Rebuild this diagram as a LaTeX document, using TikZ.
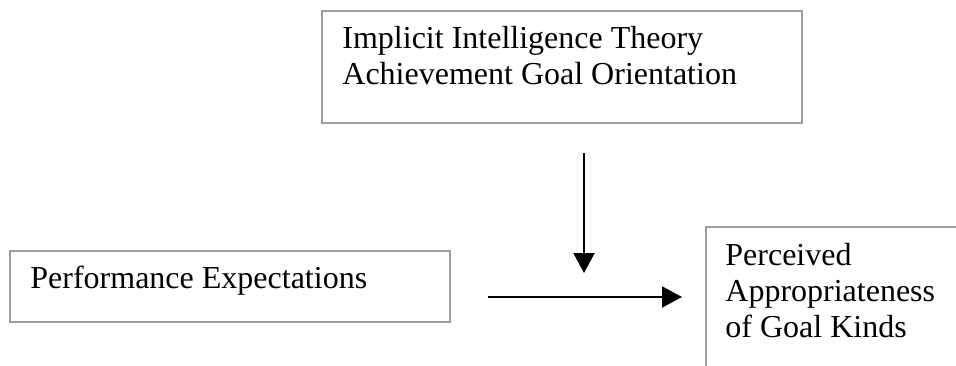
\documentclass[tikz,border=0pt]{standalone}
\usepackage{fontspec}
\setmainfont{Liberation Serif}
\usetikzlibrary{arrows.meta,positioning}
\definecolor{framegray}{RGB}{160,156,152}
\tikzset{
  framebox/.style={
    draw=framegray, line width=0.8pt, inner sep=0pt,
    anchor=north west
  },
  boxtext/.style={
    inner sep=0pt, align=left,
    font=\fontsize{16}{18}\selectfont
  },
  flowarrow/.style={
    -{Triangle[length=10pt,width=10.5pt]},
    draw=black, line width=1pt
  },
}

\begin{document}
\begin{tikzpicture}[x=0.5pt,y=-0.5pt]
  \useasboundingbox (0,0) rectangle (956,365);
  \clip (0,0) rectangle (956,365);

  %% Boxes
  \node[framebox, minimum width=240pt, minimum height=56pt] (theory) at (321,10) {};
  \node[framebox, minimum width=220pt, minimum height=35.5pt] (expect) at (9,250) {};
  \node[framebox, minimum width=200pt, minimum height=100pt] (approp) at (705,226) {};

  %% Box texts
  \node[boxtext, below right=8pt and 10.5pt of theory.north west] (theorytxt)
    {Implicit Intelligence Theory\\Achievement Goal Orientation};
  \node[boxtext, below right=8pt and 10.5pt of expect.north west] (expecttxt)
    {Performance Expectations};
  \node[boxtext, below right=8.5pt and 10pt of approp.north west] (approptxt)
    {Perceived\\Appropriateness\\of Goal Kinds};

  %% Arrows
  \coordinate (modtop) at (584,153);
  \coordinate (modtip) at (584,273);
  \coordinate (pathstart) at (488,297);
  \coordinate (pathtip) at (682,297);

  \draw[flowarrow] (modtop) -- (modtip);
  \draw[flowarrow] (pathstart) -- (pathtip);

\end{tikzpicture}
\end{document}
